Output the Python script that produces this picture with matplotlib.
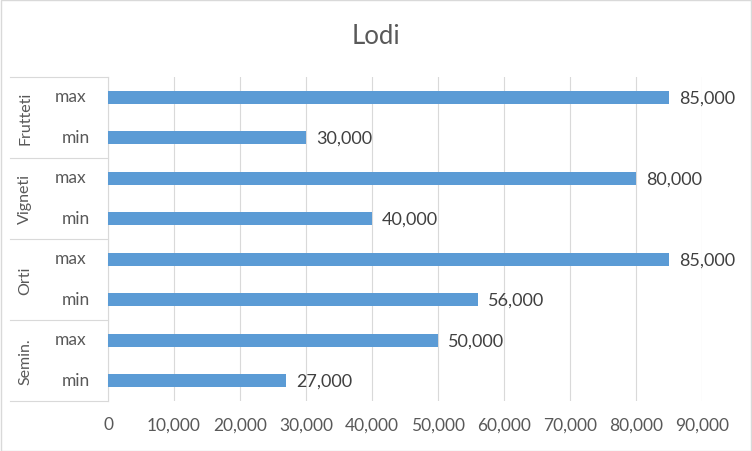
import matplotlib
matplotlib.use("Agg")
import matplotlib.pyplot as plt
from matplotlib.lines import Line2D
from matplotlib.patches import Rectangle

plt.rcParams['font.family'] = ['Lato', 'DejaVu Sans']

groups = ["Frutteti", "Vigneti", "Orti", "Semin."]
subcats = ["max", "min"]
values = [85000, 30000, 80000, 40000, 85000, 56000, 50000, 27000]
xticks = [0, 10000, 20000, 30000, 40000, 50000, 60000, 70000, 80000, 90000]
title = "Lodi"

W, H = 752, 452
fig = plt.figure(figsize=(W / 100, H / 100), dpi=100)
fig.patch.set_facecolor("white")
fig.add_artist(Rectangle((0.5 / W, 0.5 / H), 1 - 1.5 / W, 1 - 1.5 / H, transform=fig.transFigure,
                         fill=False, edgecolor="#D9D9D9", lw=1))

x0, x1, ytop, ybot = 108, 702, 78, 402
ax = fig.add_axes([x0 / W, 1 - ybot / H, (x1 - x0) / W, (ybot - ytop) / H])
txt = "#595959"
n = len(values)
pos = [n - 1 - i for i in range(n)]
ax.barh(pos, values, height=0.31, color="#5B9BD5", zorder=3)
for p, v in zip(pos, values):
    ax.annotate(f"{v:,}", xy=(v, p), xytext=(10, 0), textcoords="offset pixels",
                va="center", ha="left", color="#404040", fontsize=13)

ax.set_xlim(0, 90000)
ax.set_ylim(-0.5, n - 0.5)
ax.set_xticks(xticks)
ax.set_xticklabels([f"{t:,}" for t in xticks], color=txt, fontsize=12.5)
ax.tick_params(axis="x", length=0, pad=11)
ax.set_yticks([])
ax.grid(axis="x", color="#D9D9D9", lw=0.8, zorder=0)
for s in ["top", "right", "bottom"]:
    ax.spines[s].set_visible(False)
ax.spines["left"].set_color("#D9D9D9")

# category labels
for i, p in enumerate(pos):
    cx = 71 if subcats[i % 2] == "max" else 76
    ax.annotate(subcats[i % 2], xy=(0, p), xycoords=("axes fraction", "data"),
                xytext=(-(x0 - cx), 1), textcoords="offset pixels",
                ha="center", va="center", color=txt, fontsize=12.5)
for g, name in enumerate(groups):
    center = n - 1 - (2 * g + 0.5)
    ax.annotate(name, xy=(0, center), xycoords=("axes fraction", "data"),
                xytext=(-(x0 - 25), 0), textcoords="offset pixels",
                ha="center", va="center", rotation=90, color=txt, fontsize=11.5)
# separators
for k in range(len(groups) + 1):
    yb = -0.5 + 2 * k
    ax.add_artist(Line2D([-(x0 - 10) / (x1 - x0), 0], [yb, yb], transform=ax.get_yaxis_transform(),
                         color="#D9D9D9", lw=0.8, clip_on=False))

fig.text(0.5, 1 - 37 / H, title, ha="center", va="center", fontsize=18.5, color=txt)

fig.savefig("out.png", dpi=100)
